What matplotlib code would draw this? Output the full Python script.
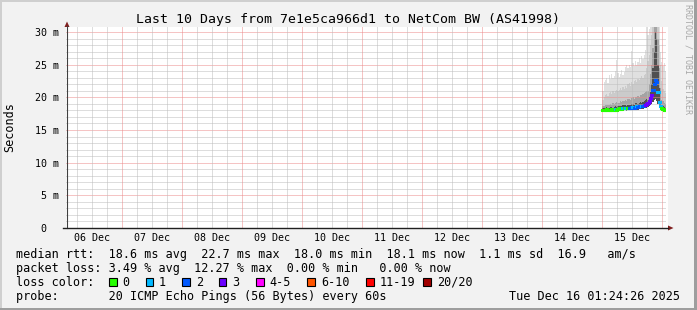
import numpy as np
import matplotlib
matplotlib.use("Agg")
import matplotlib.pyplot as plt
from matplotlib.patches import Rectangle, Polygon
from matplotlib.lines import Line2D

plt.rcParams['font.family'] = ['DejaVu Sans Mono']
plt.rcParams['lines.scale_dashes'] = False

W, H = 697, 310
def fx(x):
    return x / W
def fy(y):
    return 1 - y / H

# ---------------- data ----------------
title = "Last 10 Days from 7e1e5ca966d1 to NetCom BW (AS41998)"
window_start = np.datetime64('2025-12-06T01:24:26')
window_end = np.datetime64('2025-12-16T01:24:26')
data_start = np.datetime64('2025-12-15T00:00')
step = np.timedelta64(30, 'm')

median = [18.1, 18.0, 18.1, 18.2, 18.1, 18.0, 18.1, 18.2, 18.1, 18.1, 18.2, 18.1,
          18.2, 18.3, 18.2, 18.2, 18.3, 18.4, 18.3, 18.3, 18.4, 18.3, 18.4, 18.5,
          18.5, 18.4, 18.5, 18.6, 18.5, 18.6, 18.7, 18.6, 18.7, 18.8, 18.9, 19.0,
          19.2, 19.5, 19.9, 20.4,
          21.2, 22.0, 22.7, 22.3, 20.8,
          19.3, 18.6, 18.3, 18.2, 18.1, 18.1]
loss = [0, 0, 0, 0, 0, 0, 0, 0, 0, 0, 1, 0,
        0, 0, 0, 0, 1, 0, 1, 1, 0, 2, 2, 2,
        1, 2, 2, 1, 2, 2, 2, 1, 2, 2, 3, 3,
        3, 3, 3, 3,
        2, 2, 2, 2, 1,
        1, 1, 0, 0, 0, 0]
smoke_lo = [17.9, 17.8, 17.9, 17.9, 17.8, 17.8, 17.9, 17.9, 17.8, 17.9, 17.9, 17.9,
            17.9, 18.0, 17.9, 17.9, 18.0, 18.0, 18.0, 17.9, 18.0, 18.0, 18.0, 18.1,
            18.1, 18.0, 18.1, 18.1, 18.1, 18.2, 18.2, 18.2, 18.2, 18.3, 18.3, 18.4,
            18.5, 18.6, 18.8, 19.0,
            19.3, 19.6, 19.8, 19.5, 19.0,
            18.5, 18.2, 18.0, 17.9, 17.9, 17.9]
smoke_core = [18.4, 18.3, 18.4, 18.5, 18.4, 18.3, 18.5, 18.5, 18.4, 18.5, 18.6, 18.5,
              18.6, 18.7, 18.6, 18.6, 18.8, 18.8, 18.8, 18.7, 18.9, 18.8, 18.9, 19.0,
              19.0, 18.9, 19.1, 19.1, 19.0, 19.2, 19.3, 19.2, 19.3, 19.5, 19.6, 19.8,
              19.6, 20.0, 20.8, 22.0,
              24.5, 27.0, 30.0, 29.0, 25.0,
              21.5, 19.5, 18.8, 18.6, 18.5, 18.4]
smoke_q3 = [18.6, 18.7, 18.8, 18.9, 18.8, 18.9, 19.0, 18.9, 19.1, 19.0, 19.2, 19.3,
            19.1, 19.2, 19.4, 19.3, 19.5, 19.4, 19.6, 19.5, 19.7, 19.8, 19.6, 19.9,
            20.0, 19.8, 20.1, 20.0, 20.2, 20.1, 20.3, 20.4, 20.5, 20.6, 20.8, 21.0,
            21.0, 22.0, 23.5, 25.0,
            27.5, 31.0, 31.0, 31.0, 29.0,
            24.5, 21.5, 19.6, 19.4, 19.2, 19.0]
smoke_q9 = [19.6, 20.0, 20.3, 20.5, 20.2, 20.6, 20.8, 20.5, 20.9, 20.7, 21.0, 21.2,
            20.9, 21.1, 21.4, 21.1, 21.6, 21.3, 21.8, 21.5, 22.0, 22.2, 21.8, 22.4,
            22.1, 22.5, 22.6, 22.3, 22.8, 22.6, 23.0, 23.2, 22.9, 23.4, 23.5, 24.5,
            25.5, 26.5, 28.0, 29.5,
            31.0, 31.0, 31.0, 31.0, 31.0,
            28.0, 25.0, 22.5, 21.3, 21.0, 20.6]
smoke_hi = [21.0, 22.3, 22.6, 23.0, 22.2, 23.4, 22.8, 23.6, 22.9, 23.2, 24.0, 25.7,
            23.8, 23.1, 23.6, 24.2, 23.4, 23.9, 24.6, 24.9, 24.5, 25.0, 24.7, 27.1,
            25.3, 24.8, 25.6, 24.9, 25.4, 26.0, 25.2, 26.3, 25.8, 26.5, 27.2, 31.0,
            29.5, 30.5, 31.0, 31.0,
            31.0, 31.0, 31.0, 31.0, 31.0,
            31.0, 27.0, 25.4, 24.8, 25.2, 24.0]

day_labels = ['06 Dec', '07 Dec', '08 Dec', '09 Dec', '10 Dec',
              '11 Dec', '12 Dec', '13 Dec', '14 Dec', '15 Dec']
ytick_vals = [0, 5, 10, 15, 20, 25, 30]
ytick_labels = ['0  ', '5 m', '10 m', '15 m', '20 m', '25 m', '30 m']
loss_labels = ['0', '1', '2', '3', '4-5', '6-10', '11-19', '20/20']
loss_colors = ['#26ff00', '#00b8ff', '#0059ff', '#6a00ff', '#ff00ff',
               '#ff5500', '#ff0000', '#a10000']

legend_rtt = "median rtt:  18.6 ms avg  22.7 ms max  18.0 ms min  18.1 ms now  1.1 ms sd  16.9   am/s"
legend_loss = "packet loss: 3.49 % avg  12.27 % max  0.00 % min   0.00 % now"
legend_probe = "probe:       20 ICMP Echo Pings (56 Bytes) every 60s"
stamp = "Tue Dec 16 01:24:26 2025"
ylabel = "Seconds"
credit = "RRDTOOL / TOBI OETIKER"

# ---------------- figure ----------------
fig = plt.figure(figsize=(W / 100, H / 100), dpi=100, facecolor='#f2f2f2')

# 3D frame
fig.add_artist(Rectangle((0, fy(2)), 1, 2 / H, transform=fig.transFigure, color='#cfcfcf', lw=0))
fig.add_artist(Rectangle((0, 0), 2 / W, 1, transform=fig.transFigure, color='#cfcfcf', lw=0))
fig.add_artist(Rectangle((fx(694), 0), 3 / W, 1, transform=fig.transFigure, color='#9e9e9e', lw=0))
fig.add_artist(Rectangle((0, 0), 1, 2 / H, transform=fig.transFigure, color='#9e9e9e', lw=0))

# canvas
fig.add_artist(Rectangle((fx(66), fy(228)), 602 / W, 201 / H, transform=fig.transFigure,
                         color='white', lw=0, zorder=0))

ax = fig.add_axes([fx(66), fy(228), 600 / W, 201 / H])
ax.set_facecolor('white')
ax.patch.set_alpha(0)
for s in ax.spines.values():
    s.set_visible(False)
ax.set_xlim(window_start, window_end)
ax.set_ylim(0, 30.77)

n = len(median)
t = data_start + np.arange(n) * step
edges = np.append(t, window_end)

def ext(a):
    a = np.asarray(a, float)
    return np.append(a, a[-1])

ax.fill_between(edges, ext(smoke_lo), ext(smoke_hi), step='post', color='#e0e0e0', lw=0, zorder=1)
ax.fill_between(edges, ext(smoke_lo), ext(smoke_q9), step='post', color='#cbcbcb', lw=0, zorder=1.1)
ax.fill_between(edges, ext(smoke_lo), ext(smoke_q3), step='post', color='#a4a4a4', lw=0, zorder=1.2)
ax.fill_between(edges, ext(smoke_lo), ext(smoke_core), step='post', color='#505050', lw=0, zorder=1.3)

# grid (drawn over smoke like rrdtool): 1px on / 1px off dots
minor_c = '#bdbdbd'
major_c = '#ec8a8a'
dots = (0, (0.72, 0.72))
for v in range(1, 31):
    major = (v % 5 == 0)
    ax.axhline(v, color=major_c if major else minor_c, lw=0.72,
               ls=dots, antialiased=True, snap=True, zorder=2)
day_lines = np.arange(np.datetime64('2025-12-07'), np.datetime64('2025-12-17'), np.timedelta64(1, 'D'))
six_lines = np.arange(np.datetime64('2025-12-06T06'), np.datetime64('2025-12-16T02'), np.timedelta64(6, 'h'))
for d in six_lines:
    if d.astype('datetime64[D]') == d:
        continue
    ax.axvline(d, color=minor_c, lw=0.72, ls=dots, antialiased=True, snap=True, zorder=2)
for d in day_lines:
    ax.axvline(d, color=major_c, lw=0.72, ls=dots, antialiased=True, snap=True, zorder=2)

def cat(l):
    if l <= 3:
        return l
    if l <= 5:
        return 4
    if l <= 10:
        return 5
    if l <= 19:
        return 6
    return 7

cols = [loss_colors[cat(l)] for l in loss]
ax.hlines(median, t, edges[1:], colors=cols, lw=2.2, zorder=3, capstyle='projecting')

# ticks
noons = np.datetime64('2025-12-06T12:00') + np.arange(len(day_labels)) * np.timedelta64(1, 'D')
ax.set_xticks(noons, day_labels, fontsize=7.2)
ax.set_yticks(ytick_vals, ytick_labels, fontsize=7.2)
ax.tick_params(axis='x', length=0, pad=3.5)
ax.tick_params(axis='y', length=0, pad=4.8)
ax.minorticks_off()

# axes lines and arrows
fig.add_artist(Line2D([fx(67), fx(67)], [fy(228), fy(26)], color='#404040', lw=0.8, transform=fig.transFigure))
fig.add_artist(Line2D([fx(63), fx(668)], [fy(228), fy(228)], color='#1f1f1f', lw=1.0, transform=fig.transFigure))
fig.add_artist(Polygon([(fx(668), fy(225.5)), (fx(668), fy(230.5)), (fx(673.5), fy(228))],
                       closed=True, transform=fig.transFigure, color='#801f1f', lw=0))
fig.add_artist(Polygon([(fx(64.5), fy(27)), (fx(69.5), fy(27)), (fx(67), fy(21.5))],
                       closed=True, transform=fig.transFigure, color='#801f1f', lw=0))

# texts
fig.text(0.5, fy(19), title, ha='center', va='center', fontsize=9.5)
fig.text(fx(10), fy(127.5), ylabel, rotation=90, ha='center', va='center', fontsize=8.5)
fig.text(fx(688), fy(4), credit, rotation=270, ha='center', va='top', fontsize=6.0, color='#a8a8a8')

rows = [254.3, 268.3, 282.3, 296.3]
fig.text(fx(16), fy(rows[0]), legend_rtt, ha='left', va='center', fontsize=8.5)
fig.text(fx(16), fy(rows[1]), legend_loss, ha='left', va='center', fontsize=8.5)
fig.text(fx(16), fy(rows[2]), "loss color:", ha='left', va='center', fontsize=8.5)
box_x = [109, 145.5, 182, 218.5, 256, 307, 366, 423.3]
lab_x = [122.2, 158.6, 196, 232.6, 269.4, 321.6, 379.3, 437]
for bx, lx, lab, c in zip(box_x, lab_x, loss_labels, loss_colors):
    fig.add_artist(Rectangle((fx(bx), fy(286)), 7.5 / W, 8.0 / H, transform=fig.transFigure,
                             facecolor=c, edgecolor='black', lw=0.8))
    fig.text(fx(lx), fy(rows[2]), lab, ha='left', va='center', fontsize=8.5)
fig.text(fx(16), fy(rows[3]), legend_probe, ha='left', va='center', fontsize=8.5)
fig.text(fx(680), fy(rows[3]), stamp, ha='right', va='center', fontsize=8.5)

fig.savefig('out.png', dpi=100, facecolor=fig.get_facecolor())
